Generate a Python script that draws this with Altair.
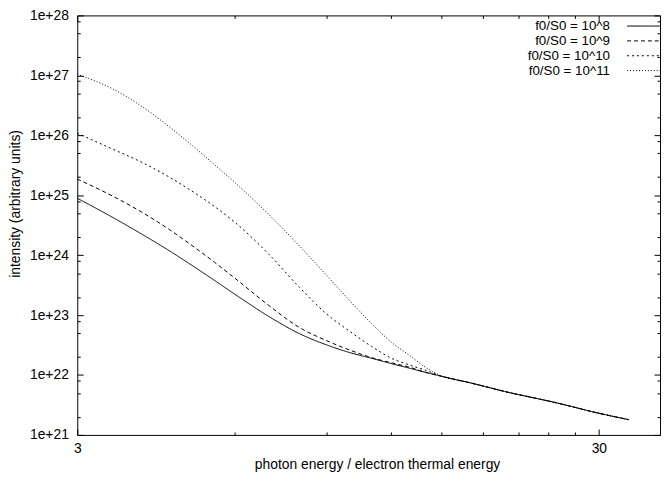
import altair as alt
import pandas as pd

# photon energy / electron thermal energy (shared x grid)
energy = [3, 3.5, 4, 4.5, 5, 5.5, 6, 7, 8, 9, 10, 11, 12, 13, 14, 15, 17, 20, 25, 30, 34.2]

# intensity (arbitrary units)
i_f8 = [8.9e24, 4.31e24, 2.21e24, 1.19e24, 6.58e23, 3.78e23, 2.26e23, 9.4e22, 4.9e22, 3.2e22,
        2.36e22, 1.9e22, 1.55e22, 1.3e22, 1.1e22, 9.5e21, 7.4e21, 5.2e21, 3.4e21, 2.3e21, 1.8e21]
i_f9 = [1.86e25, 9.75e24, 5.14e24, 2.69e24, 1.41e24, 7.6e23, 4.2e23, 1.43e23, 6.2e22, 3.77e22,
        2.6e22, 1.95e22, 1.6e22, 1.35e22, 1.1e22, 9.5e21, 7.4e21, 5.2e21, 3.4e21, 2.3e21, 1.8e21]
i_f10 = [1.08e26, 5.92e25, 3.5e25, 2.01e25, 1.14e25, 6.47e24, 3.6e24, 1.02e24, 2.9e23, 1.06e23,
         5.31e22, 3.0e22, 1.91e22, 1.47e22, 1.19e22, 9.5e21, 7.4e21, 5.2e21, 3.4e21, 2.3e21, 1.8e21]
i_f11 = [1.04e27, 6.0e26, 2.99e26, 1.39e26, 6.6e25, 3.22e25, 1.66e25, 4.7e24, 1.42e24, 4.7e23,
         1.72e23, 7.2e22, 3.53e22, 2.13e22, 1.32e22, 9.6e21, 7.4e21, 5.2e21, 3.4e21, 2.3e21, 1.8e21]

series_names = ["f0/S0 = 10^8", "f0/S0 = 10^9", "f0/S0 = 10^10", "f0/S0 = 10^11"]
series_values = [i_f8, i_f9, i_f10, i_f11]
dash_styles = [[1, 0], [4, 3], [2, 3], [1, 2]]

x_major = [3, 30]
x_minor = [6, 9, 12, 15, 18, 21, 24, 27]
y_major = [1e21, 1e22, 1e23, 1e24, 1e25, 1e26, 1e27, 1e28]
y_minor = [2e21, 5e21, 8e21, 2e22, 5e22, 8e22, 2e23, 5e23, 8e23, 2e24, 5e24, 8e24,
           2e25, 5e25, 8e25, 2e26, 5e26, 8e26, 2e27, 5e27, 8e27]

rows = []
for name, vals in zip(series_names, series_values):
    for e, v in zip(energy, vals):
        rows.append({"series": name, "energy": e, "intensity": v})
df = pd.DataFrame(rows)

FONT = "Liberation Sans"
FS = 14
xscale = alt.Scale(type="log", domain=[3, 39.3], nice=False)
yscale = alt.Scale(type="log", domain=[1e21, 1e28], nice=False)

x_axis_main = alt.Axis(
    values=x_major, format="d", ticks=False, domain=False, grid=False,
    labelFlush=False, labelPadding=7, labelFontSize=FS, labelFont=FONT, labelColor="black",
    title="photon energy / electron thermal energy", titleFont=FONT, titleFontSize=FS,
    titleFontWeight="normal", titleColor="black", titleX=303, titleY=30, titleBaseline="middle",
)
y_axis_main = alt.Axis(
    values=y_major, labelExpr="'1e+' + round(log(datum.value) / LN10)",
    ticks=False, domain=False, grid=False, labelFlush=False, labelPadding=9,
    labelFontSize=FS, labelFont=FONT, labelColor="black",
    title="intensity (arbitrary units)", titleFont=FONT, titleFontSize=FS,
    titleFontWeight="normal", titleColor="black", titleX=-62, titleY=190,
    titleAlign="center", titleBaseline="middle",
)

legend = alt.Legend(
    orient="none", legendX=567, legendY=4, title=None, padding=0,
    labelAlign="right", labelOffset={"expr": "-42"}, labelFont=FONT, labelFontSize=13.5, labelColor="black",
    symbolType="M-4,0H4", symbolSize=81, symbolStrokeWidth=1, symbolStrokeColor="black",
    symbolFillColor="transparent", symbolOpacity=1, rowPadding=0,
)

main = alt.Chart(df).mark_line(color="black", strokeWidth=1, interpolate="monotone", clip=True).encode(
    x=alt.X("energy:Q", scale=xscale, axis=x_axis_main),
    y=alt.Y("intensity:Q", scale=yscale, axis=y_axis_main),
    strokeDash=alt.StrokeDash("series:N", scale=alt.Scale(domain=series_names, range=dash_styles), legend=legend),
    detail="series:N",
)


def tick_axis(orient, values, size):
    return alt.Axis(orient=orient, values=values, tickSize={"expr": str(-size)},
                    labels=False, domain=False, grid=False, title=None,
                    tickColor="black", tickWidth=1)


def tick_layer(xorient, yorient, xvals, yvals, size):
    return alt.Chart(df).mark_line(opacity=0).encode(
        x=alt.X("energy:Q", scale=xscale, axis=tick_axis(xorient, xvals, size)),
        y=alt.Y("intensity:Q", scale=yscale, axis=tick_axis(yorient, yvals, size)),
        detail="series:N",
    )


chart = alt.layer(
    main,
    tick_layer("bottom", "left", x_major, y_major, 6),
    tick_layer("bottom", "left", x_minor, y_minor, 3),
    tick_layer("top", "right", x_major, y_major, 6),
    tick_layer("top", "right", x_minor, y_minor, 3),
).resolve_axis(x="independent", y="independent").properties(
    width=589, height=424,
    autosize=alt.AutoSizeParams(type="none"),
    padding={"left": 70, "top": 5, "right": 1, "bottom": 38},
).configure_view(stroke="black", strokeWidth=1)

chart.save("out.html", embed_options={"renderer": "svg", "actions": False})
